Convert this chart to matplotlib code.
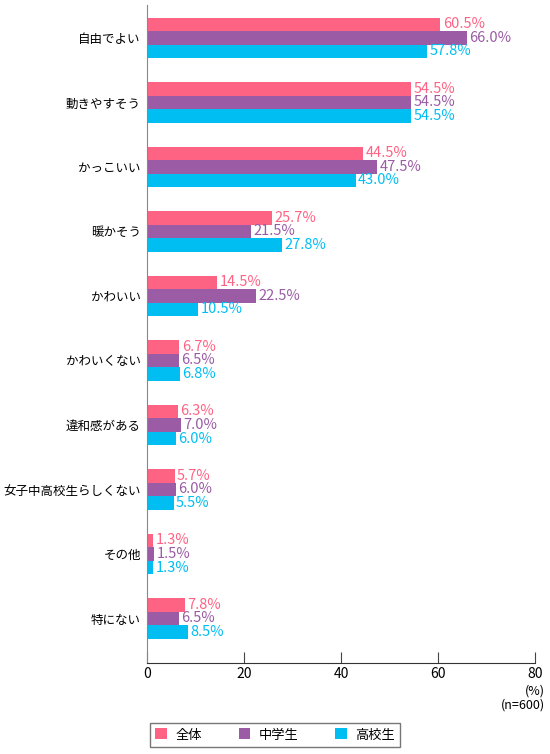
import matplotlib
matplotlib.use("Agg")
import matplotlib.pyplot as plt
import numpy as np

plt.rcParams['font.family'] = ['Noto Sans CJK JP', 'DejaVu Sans']

# data
categories = ["自由でよい", "動きやすそう", "かっこいい", "暖かそう", "かわいい",
              "かわいくない", "違和感がある", "女子中高校生らしくない", "その他", "特にない"]
zentai = [60.5, 54.5, 44.5, 25.7, 14.5, 6.7, 6.3, 5.7, 1.3, 7.8]
chugaku = [66.0, 54.5, 47.5, 21.5, 22.5, 6.5, 7.0, 6.0, 1.5, 6.5]
koko = [57.8, 54.5, 43.0, 27.8, 10.5, 6.8, 6.0, 5.5, 1.3, 8.5]
series_names = ["全体", "中学生", "高校生"]
colors = ["#FF6384", "#9B5BA5", "#00BEF2"]

fig = plt.figure(figsize=(5.5, 7.54), dpi=100)
ax = fig.add_axes([147/550, 1-663/754, 388/550, 658/754])

y = np.arange(len(categories))
bh = 0.21
handles = []
for j, (vals, col, name) in enumerate(zip([zentai, chugaku, koko], colors, series_names)):
    pos = y + (j - 1) * bh
    b = ax.barh(pos, vals, height=bh, color=col, label=name)
    handles.append(b)
    for p, v in zip(pos, vals):
        ax.text(v + 0.5, p, "{:.1f}%".format(v), va='center', ha='left',
                color=col, fontsize=10.5)

ax.set_ylim(len(categories) - 1 + 0.69, -0.51)
ax.set_xlim(0, 80)
ax.set_yticks(y)
ax.set_yticklabels(categories, fontsize=9)
ax.tick_params(axis='y', length=0, pad=4.5)
ax.set_xticks([0, 20, 40, 60, 80])
ax.tick_params(axis='x', direction='in', length=8, labelsize=10, pad=3, color='#444444')

for s in ['top', 'right']:
    ax.spines[s].set_visible(False)
ax.spines['left'].set_color('#888888')
ax.spines['bottom'].set_color('#333333')

fig.text(545/550, 1-691/754, "(%)", ha='right', va='center', fontsize=9)
fig.text(545/550, 1-705/754, "(n=600)", ha='right', va='center', fontsize=9)

leg = fig.legend(handles=handles, labels=series_names, loc='center',
                 bbox_to_anchor=(275/550, 1-735/754), ncol=3, frameon=True,
                 fancybox=False, edgecolor='#555555', fontsize=9.5,
                 handlelength=0.9, handleheight=0.9, columnspacing=2.8,
                 borderpad=0.4, handletextpad=0.6)
leg.get_frame().set_linewidth(1.0)

fig.savefig("out.png", dpi=100)
